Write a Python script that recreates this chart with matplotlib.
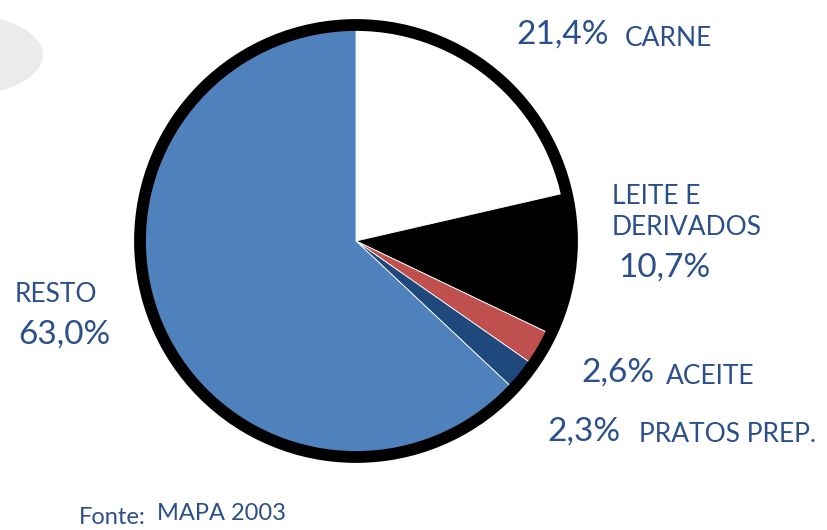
import matplotlib.pyplot as plt
from matplotlib.patches import Circle, Ellipse

plt.rcParams['font.family'] = ['Lato', 'DejaVu Sans']

labels = ['CARNE', 'LEITE E\nDERIVADOS', 'ACEITE', 'PRATOS PREP.', 'RESTO']
values = [21.4, 10.7, 2.6, 2.3, 63.0]
pct_text = ['21,4%', '10,7%', '2,6%', '2,3%', '63,0%']
colors = ['#FFFFFF', '#000000', '#C0504D', '#1F497D', '#4F81BD']
txt_color = '#2A4F8A'

W, H = 827, 530
fig = plt.figure(figsize=(W / 100, H / 100), dpi=100)
ax = fig.add_axes([0, 0, 1, 1])

def y(v):
    return H - v

# grey decoration top-left
ax.add_patch(Ellipse((-40, y(55)), 166, 82, color='#EBEBEB', lw=0, zorder=0))

cx, cy = 356, y(241)
ax.pie(values, colors=colors, startangle=90, counterclock=False,
       center=(cx, cy), radius=212, frame=True,
       wedgeprops=dict(edgecolor='white', linewidth=0.6))
ax.set_xlim(0, W)
ax.set_ylim(0, H)
ax.set_aspect('equal')
ax.axis('off')
ax.add_patch(Circle((cx, cy), 216, fill=False, ec='black', lw=8.5, zorder=5))

big, small = 24, 19
ax.text(516, y(35), pct_text[0], fontsize=big, color=txt_color, va='center')
ax.text(625, y(38), labels[0], fontsize=small, color=txt_color, va='center')
ax.text(612, y(212), labels[1], fontsize=small, color=txt_color, va='center',
        linespacing=1.32)
ax.text(618, y(268), pct_text[1], fontsize=big, color=txt_color, va='center')
ax.text(581, y(373), pct_text[2], fontsize=big, color=txt_color, va='center')
ax.text(666, y(376), labels[2], fontsize=small, color=txt_color, va='center')
ax.text(547, y(432), pct_text[3], fontsize=big, color=txt_color, va='center')
ax.text(639, y(435), labels[3], fontsize=small, color=txt_color, va='center')
ax.text(15, y(295), labels[4], fontsize=small, color=txt_color, va='center')
ax.text(18, y(335), pct_text[4], fontsize=big, color=txt_color, va='center')
ax.text(79, y(518), 'Fonte:', fontsize=17, color=txt_color, va='center')
ax.text(157, y(513), 'MAPA 2003', fontsize=17, color=txt_color, va='center')

fig.savefig('out.png', dpi=100)
